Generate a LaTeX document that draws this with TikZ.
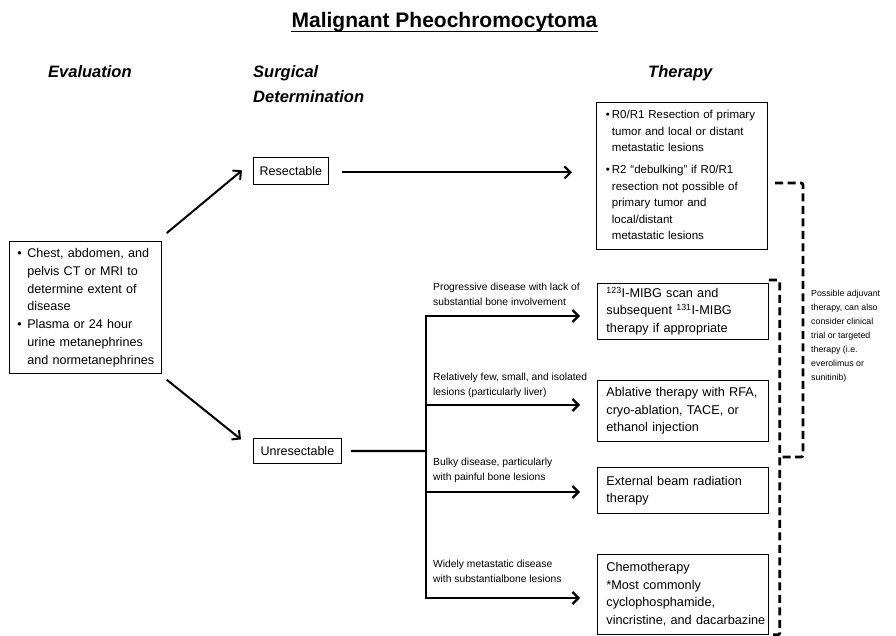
\documentclass[tikz,border=0pt]{standalone}
\usepackage{fontspec}
\setmainfont{Liberation Sans}
\usetikzlibrary{arrows.meta}
% rows of a box, never wrapped
\newcommand\boxrows[1]{\begin{tabular}{@{}l@{}}#1\end{tabular}}
\newcommand\bulletrows[2]{\begin{tabular}{@{}l@{\hspace{#1}}l@{}}#2\end{tabular}}
\begin{document}
\begin{tikzpicture}[x=1pt,y=-1pt,
  every node/.style={inner sep=0pt},
  box/.style={draw, line width=0.8pt, anchor=north west, align=left,
    inner xsep=9pt, inner ysep=0pt},
  therapybox/.style={box, text width=153pt, minimum height=#1,
    font=\fontsize{12.7}{17.5}\selectfont},
  surgbox/.style={draw, line width=0.8pt, anchor=north west,
    font=\fontsize{12.5}{15}\selectfont},
  arr/.style={line width=2.2pt, -{Straight Barb[length=6pt,width=12pt]}},
  conn/.style={line width=2.2pt},
  bracket/.style={line width=2.7pt, dash pattern=on 8pt off 4.5pt, rounded corners=2pt},
  head/.style={font=\fontsize{16.5}{20}\selectfont\bfseries\itshape, anchor=base west},
  lbl/.style={font=\fontsize{10.3}{14.8}\selectfont, align=left, anchor=west},
]
\useasboundingbox (0,0) rectangle (896,636);

% title and column headings
\node[font=\fontsize{21}{25}\selectfont\bfseries, anchor=base] (title) at (444.5,28)
  {Malignant Pheochromocytoma};
\draw[line width=1.3pt] ([yshift=-3.5pt]title.base west) -- ([yshift=-3.5pt]title.base east);
\node[head] (hEval)  at (48,78)  {Evaluation};
\node[head] (hSurgA) at (253,78) {Surgical};
\node[head] (hSurgB) at (253,103) {Determination};
\node[head] (hTher)  at (648,78) {Therapy};

% evaluation
\node[box, inner xsep=8pt, text width=136pt, minimum height=132pt,
      font=\fontsize{12.6}{17.9}\selectfont] (eval) at (9,241)
  {\bulletrows{5.5pt}{\textbullet & Chest, abdomen, and\\
    & pelvis CT or MRI to\\
    & determine extent of\\
    & disease\\
    \textbullet & Plasma or 24 hour\\
    & urine metanephrines\\
    & and normetanephrines}};

% surgical determination
\node[surgbox, minimum width=75pt, minimum height=27pt] (res) at (253,157) {Resectable};
\node[surgbox, minimum width=88pt, minimum height=25pt] (unres) at (253,438) {Unresectable};

% therapy boxes
\node[box, inner xsep=9.5pt, text width=152pt, minimum height=147pt,
      font=\fontsize{11.5}{16.6}\selectfont] (r0) at (596,102)
  {\bulletrows{2pt}{\textbullet & R0/R1 Resection of primary\\
    & tumor and local or distant\\
    & metastatic lesions\\[5pt]
    \textbullet & R2 “debulking” if R0/R1\\
    & resection not possible of\\
    & primary tumor and\\
    & local/distant\\
    & metastatic lesions}};
\node[therapybox=56pt] (mibg) at (597,283)
  {\boxrows{\textsuperscript{123}I-MIBG scan and\\
    subsequent \textsuperscript{131}I-MIBG\\
    therapy if appropriate}};
\node[therapybox=61pt] (abl) at (597,380)
  {\boxrows{Ablative therapy with RFA,\\
    cryo-ablation, TACE, or\\
    ethanol injection}};
\node[therapybox=46pt] (ext) at (597,467)
  {\boxrows{External beam radiation\\
    therapy}};
\node[therapybox=80pt] (chemo) at (597,554)
  {\boxrows{Chemotherapy\\
    \relax *Most commonly\\
    cyclophosphamide,\\
    vincristine, and dacarbazine}};

% evaluation to surgical determination
\draw[arr, line width=2pt] ([xshift=5pt,yshift=8pt]eval.north east) -- ([xshift=-11pt,yshift=0.5pt]res.west);
\draw[arr, line width=2pt] ([xshift=5pt,yshift=-6pt]eval.south east) -- ([xshift=-12pt,yshift=11.5pt]unres.west);

% resectable
\draw[arr] ([xshift=13pt,yshift=-1.5pt]res.east) -- ([xshift=-24pt,yshift=-1.5pt]res.east -| r0.west);

% unresectable branches
\coordinate (trunkmid) at (426,451);
\coordinate (b1) at (426,316);
\coordinate (b2) at (426,405);
\coordinate (b3) at (426,492);
\coordinate (b4) at (426,598);
\draw[conn] ([xshift=9pt]unres.east) -- (trunkmid);
\draw[arr] (b4) -- (b1) -- ([xshift=-17pt]b1 -| mibg.west);
\draw[arr] (b1) -- (b4) -- ([xshift=-17pt]b4 -| chemo.west);
\draw[arr] (b2) -- ([xshift=-17pt]b2 -| abl.west);
\draw[arr] (b3) -- ([xshift=-17pt]b3 -| ext.west);

\node[lbl] (l1) at (433,294.2) {Progressive disease with lack of\\substantial bone involvement};
\node[lbl] (l2) at (433,385.3) {Relatively few, small, and isolated\\lesions (particularly liver)};
\node[lbl] (l3) at (433,470.3) {Bulky disease, particularly\\with painful bone lesions};
\node[lbl] (l4) at (433,571.2) {Widely metastatic disease\\with substantialbone lesions};

% adjuvant therapy brackets
\coordinate (k1a) at (775,183);
\coordinate (k1b) at (803,183);
\coordinate (k1c) at (803,457);
\coordinate (k1d) at (781,457);
\draw[bracket] (k1a) -- (k1b) -- (k1c) -- (k1d);
\draw[bracket] ([yshift=3pt]mibg.north east) -- ++(11,0) |- (chemo.south east);

\node[font=\fontsize{8.8}{14}\selectfont, align=left, anchor=west] (adj) at (811,336.5)
  {Possible adjuvant\\therapy, can also\\consider clinical\\trial or targeted\\therapy (i.e.\\everolimus or\\sunitinib)};
\end{tikzpicture}
\end{document}
